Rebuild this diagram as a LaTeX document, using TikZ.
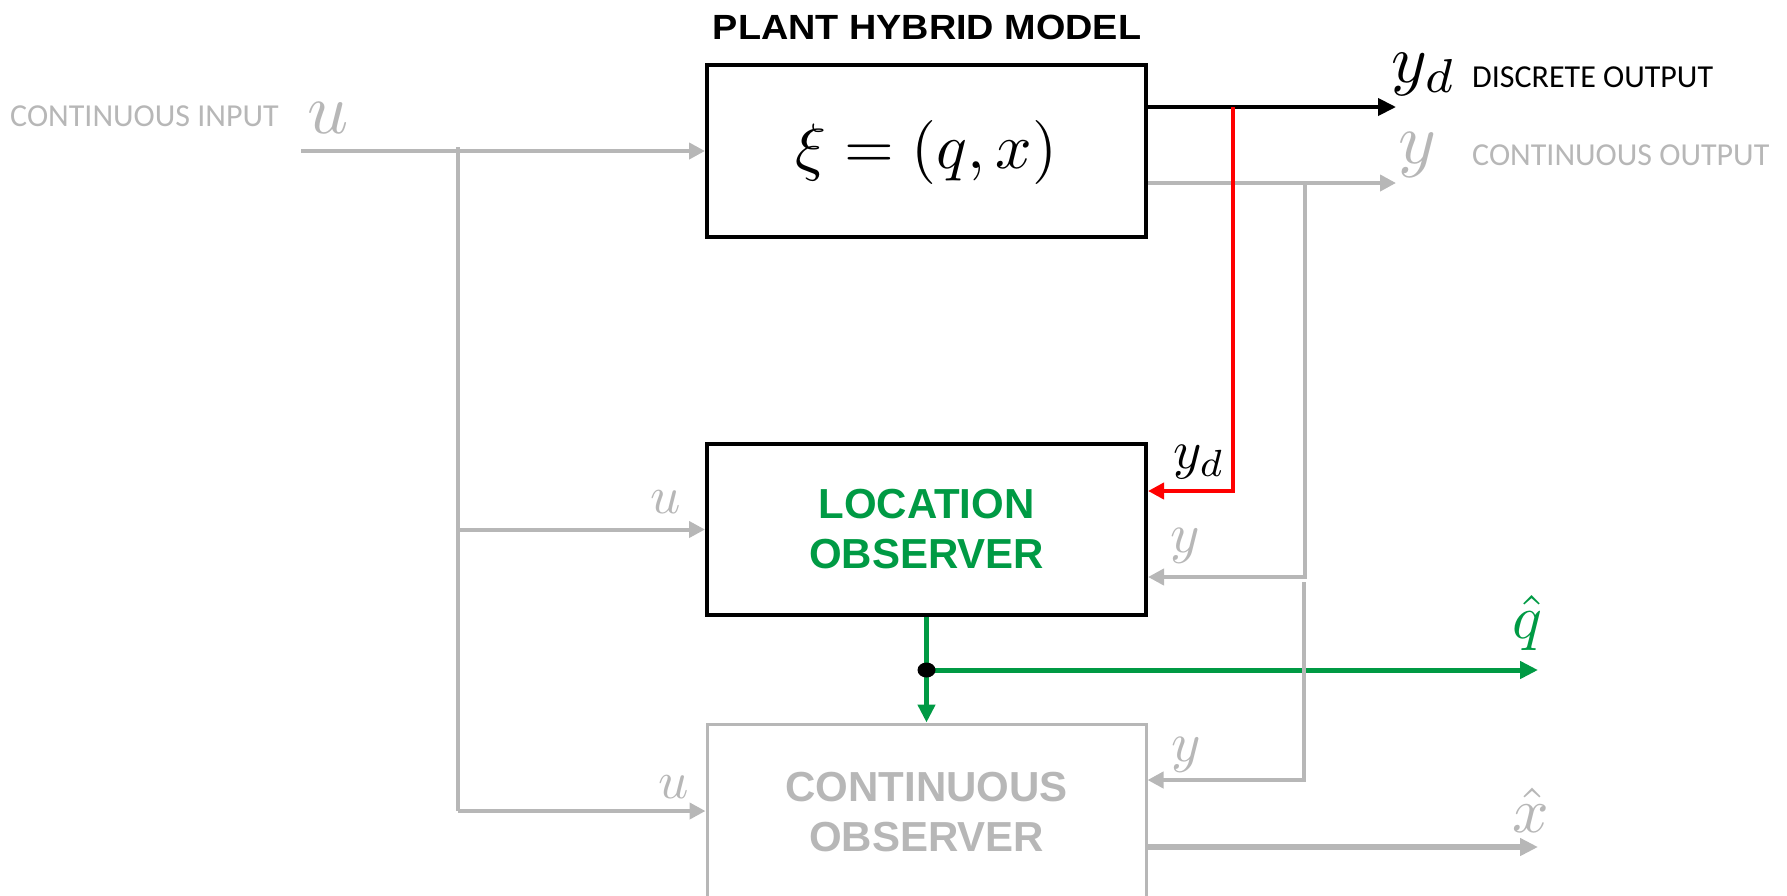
\documentclass[tikz,border=0pt]{standalone}
\usepackage{fontspec}
\setmainfont{Liberation Sans}
\newfontfamily\arialb{Liberation Sans}
\newfontfamily\calib{Carlito}
\usetikzlibrary{arrows.meta}
\definecolor{lg}{RGB}{183,183,183}
\definecolor{gr}{RGB}{0,154,68}
\definecolor{rd}{RGB}{255,0,0}
\newcommand\mysc[2]{\scalebox{#1}{$#2$}}
\begin{document}
\begin{tikzpicture}[x=1pt,y=-1pt,
  box/.style={draw,line width=4pt,inner sep=0pt,minimum width=439pt},
  gl/.style={draw=lg,line width=4pt,line join=miter},
  gtip/.style={-{Triangle[length=16pt,width=16pt]}},
  btip/.style={-{Triangle[length=18pt,width=17pt]}},
  bigtxt/.style={font=\arialb\bfseries\fontsize{42}{50}\selectfont,align=center,inner sep=0pt},
  lbl/.style={font=\calib\fontsize{32}{36}\selectfont,inner sep=0pt},
  mlbl/.style={inner sep=0pt,anchor=base}
]
\useasboundingbox (0,0) rectangle (1787,895);
\clip (0,0) rectangle (1787,895);

% title
\node[inner sep=0pt,font=\arialb\bfseries\fontsize{35}{40}\selectfont] (title) at (927,27) {\scalebox{1.08}[1]{PLANT HYBRID MODEL}};

% boxes
\node[box,minimum height=172pt] (plant) at (926.5,151) {};
\node[inner sep=0pt] (xi) at (926.5,152.5) {\mysc{6.4}{\xi = (q,x)}};
\node[box,minimum height=171pt,bigtxt,text=gr] (loc) at (926.5,529.5) {LOCATION\\OBSERVER};
\node[draw=lg,line width=3pt,inner sep=0pt,minimum width=439pt,minimum height=280pt] (cont) at (926.5,864) {};
\node[bigtxt,text=lg] (conttxt) at (926.5,812) {CONTINUOUS\\OBSERVER};

% input side
\node[lbl,text=lg,anchor=west] (cinlbl) at (10,116) {CONTINUOUS INPUT};
\node[mlbl,text=lg] (ubig) at (328.5,133) {\mysc{7.2}{u}};
\coordinate (uin) at (301,151);
\coordinate (jt) at (458,147);
\coordinate (jm) at (458,529.5);
\coordinate (jb) at (458,811);
\draw[gl,gtip] (uin) -- (plant.west);
\draw[gl] (jt) -- (jb);
\draw[gl,gtip] (jm) -- (loc.west);
\draw[gl,gtip] (jb) -- (jb -| cont.west);
\node[mlbl,text=lg] (uloc) at (665.5,513) {\mysc{5.3}{u}};
\node[mlbl,text=lg] (ucont) at (674,798) {\mysc{5.3}{u}};

% outputs of plant
\coordinate (ydo) at (1396,107);
\coordinate (yo) at (1396,183);
\draw[line width=4pt,btip] (plant.east |- ydo) -- (ydo);
\draw[gl,gtip] (plant.east |- yo) -- (yo);
\node[mlbl,anchor=base west] (ydbig) at (1391,82) {\mysc{6.8}{y_d}};
\node[lbl,anchor=west] (dolbl) at (1472,77.5) {DISCRETE OUTPUT};
\node[mlbl,text=lg,anchor=base west] (ybig) at (1398,163) {\mysc{7.2}{y}};
\node[lbl,text=lg,anchor=west] (colbl) at (1472,155) {CONTINUOUS OUTPUT};

% green estimate
\coordinate (dot) at (926.5,670);
\coordinate (qo) at (1538,670);
\draw[gr,line width=5pt,btip] (loc.south) -- (cont.north);
\draw[gr,line width=5pt,btip] (dot) -- (qo);
\fill[black] (dot) ellipse (9pt and 7.5pt);
\node[mlbl,text=gr] (qhat) at (1527,638) {\mysc{6.2}{\hat{q}}};

% feedback of y
\coordinate (gt) at (1305,183);
\coordinate (gm) at (1305,577);
\coordinate (gm2) at (1304,582);
\coordinate (gb) at (1304,780);
\draw[gl,gtip] (gt) -- (gm) -- (gm -| loc.east);
\draw[gl,gtip] (gm2) -- (gb) -- (gb -| cont.east);
\node[mlbl,text=lg] (yloc) at (1185.5,552) {\mysc{5.6}{y}};
\node[mlbl,text=lg] (ycont) at (1186,761) {\mysc{5.6}{y}};

% red discrete feedback
\coordinate (rt) at (1233,107);
\coordinate (rb) at (1233,491);
\draw[rd,line width=4pt,line join=miter,-{Triangle[length=16pt,width=16pt]}] (rt) -- (rb) -- (rb -| loc.east);
\node[mlbl,anchor=base west] (ydloc) at (1173,468) {\mysc{5.4}{y_d}};

% continuous estimate
\coordinate (xo) at (1538,847);
\draw[lg,line width=6pt,btip] (cont.east |- xo) -- (xo);
\node[mlbl,text=lg] (xhat) at (1531,832) {\mysc{6.4}{\hat{x}}};
\end{tikzpicture}
\end{document}
